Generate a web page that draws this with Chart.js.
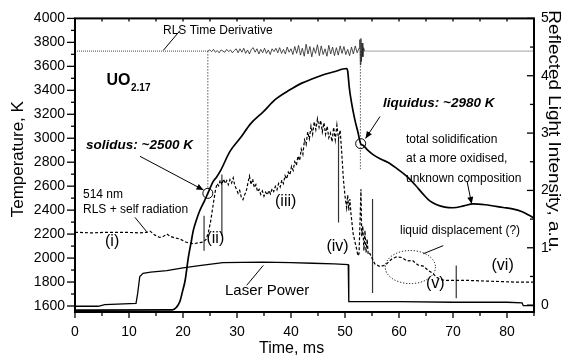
<!DOCTYPE html>
<html><head><meta charset="utf-8">
<script src="https://cdn.jsdelivr.net/npm/chart.js@4/dist/chart.umd.min.js"></script>
<style>html,body{margin:0;padding:0;background:#fff;}canvas{display:block;}</style>
</head><body>
<canvas id="c" width="567" height="356"></canvas>
<script>
const FONT = '"Liberation Sans", Arial, Helvetica, sans-serif';

// ---- tick labels ----
const xTickLabels = [0, 10, 20, 30, 40, 50, 60, 70, 80];
const tempTickLabels = [1600, 1800, 2000, 2200, 2400, 2600, 2800, 3000, 3200, 3400, 3600, 3800, 4000];
const rlsTickLabels = [0, 1, 2, 3, 4, 5];

// ---- temperature (K, left axis) ----
const tempTime = [0, 18.0, 18.8, 19.4, 19.9, 20.4, 21.0, 21.5, 21.9, 22.5, 23.1, 24.0, 24.6, 25.6, 26.2, 26.9, 28.7, 30.6, 32.5, 34.9, 37.0, 39.8, 42.0, 44.1, 46.0, 48.0, 50.3, 50.5, 50.8, 51.2, 51.8, 52.4, 52.9, 53.4, 54.2, 55.2, 56.7, 58.3, 59.8, 61.4, 63.0, 64.5, 65.7, 67.0, 68.5, 70.0, 72.0, 73.7, 76.0, 79.3, 81.0, 82.7, 84.0, 85.0];
const tempK = [1566, 1567, 1590, 1635, 1720, 1815, 2008, 2130, 2229, 2320, 2395, 2480, 2540, 2640, 2675, 2725, 2890, 3001, 3120, 3222, 3320, 3404, 3460, 3498, 3530, 3555, 3582, 3560, 3420, 3300, 3160, 3050, 2955, 2940, 2900, 2863, 2825, 2790, 2740, 2684, 2610, 2532, 2477, 2445, 2425, 2420, 2435, 2453, 2445, 2422, 2410, 2389, 2360, 2335];

// ---- laser power (a.u., right axis) ----
const laserTime = [0, 4.3, 5.5, 11.3, 11.6, 12.0, 12.6, 14, 17, 20, 23, 27.4, 31, 34.8, 40, 44, 48, 50.6, 50.7, 51.2, 60, 70, 80, 82.8, 83.0, 85];
const laserVal = [-0.02, -0.02, 0.01, 0.03, 0.2, 0.5, 0.555, 0.575, 0.6, 0.65, 0.69, 0.74, 0.745, 0.75, 0.74, 0.73, 0.72, 0.705, 0.06, 0.06, 0.06, 0.05, 0.05, 0.04, -0.01, -0.01];

// ---- 514 nm RLS + self radiation (a.u., right axis, dashed) ----
const rlsTime = [0, 3, 6, 9, 12, 13.3, 13.9, 14.8, 15.7, 16.4, 17, 17.6, 18.5, 19.4, 20.5, 21.9, 23, 23.8, 24.3, 24.7, 25.1, 25.6, 26.0, 26.3, 26.6, 26.9, 27.2, 27.5, 27.8, 28.1, 28.4, 28.7, 29.0, 29.3, 29.6, 29.9, 30.2, 30.5, 30.8, 31.1, 31.4, 31.7, 32.0, 32.3, 32.6, 32.9, 33.2, 33.5, 33.8, 34.1, 34.4, 34.7, 35.0, 35.3, 35.6, 35.9, 36.2, 36.5, 36.8, 37.1, 37.4, 37.7, 38.0, 38.3, 38.6, 38.9, 39.2, 39.5, 39.8, 40.1, 40.4, 40.7, 41.0, 41.3, 41.6, 41.9, 42.2, 42.5, 42.8, 43.1, 43.4, 43.7, 44.0, 44.3, 44.6, 44.9, 45.2, 45.5, 45.8, 46.1, 46.4, 46.7, 47.0, 47.3, 47.6, 47.9, 48.2, 48.5, 48.8, 49.1, 49.4, 49.7, 50.0, 50.3, 50.5, 50.7, 50.9, 51.1, 51.5, 51.8, 52.1, 52.4, 52.6, 52.8, 52.95, 53.1, 53.3, 53.5, 53.7, 53.9, 54.1, 54.3, 54.6, 55.5, 56.5, 57.5, 58.6, 59.5, 60.5, 61.5, 62.5, 63.5, 64.5, 65.5, 66.3, 67, 68, 69, 71, 73, 76, 79, 82, 85];
const rlsVal = [1.27, 1.26, 1.27, 1.27, 1.26, 1.27, 1.29, 1.22, 1.18, 1.2, 1.24, 1.2, 1.17, 1.155, 1.1, 1.07, 1.09, 1.1, 1.15, 1.27, 1.45, 1.76, 2.0, 2.12, 2.08, 2.18, 2.1, 2.2, 2.12, 2.17, 2.1, 2.19, 2.13, 2.22, 2.08, 2.02, 1.95, 2.0, 1.88, 1.84, 1.92, 1.98, 2.12, 2.25, 2.1, 2.2, 2.05, 2.1, 1.98, 2.02, 1.93, 1.99, 1.9, 1.97, 1.92, 2.0, 1.94, 2.03, 1.98, 2.07, 2.01, 2.12, 2.06, 2.18, 2.12, 2.26, 2.2, 2.32, 2.27, 2.42, 2.35, 2.5, 2.44, 2.6, 2.52, 2.72, 2.63, 2.88, 2.8, 3.02, 2.9, 3.12, 2.98, 3.2, 3.06, 3.25, 3.1, 3.22, 3.02, 3.18, 2.98, 3.12, 2.92, 3.0, 2.85, 3.1, 2.88, 3.14, 2.9, 3.05, 2.65, 2.2, 1.9, 1.7, 1.92, 1.65, 1.85, 1.6, 1.25, 1.12, 1.0, 0.86, 0.9, 1.5, 2.02, 1.2, 1.38, 0.95, 1.3, 0.92, 1.15, 0.88, 0.9, 0.72, 0.67, 0.7, 0.8, 0.84, 0.83, 0.77, 0.78, 0.7, 0.68, 0.6, 0.55, 0.48, 0.44, 0.43, 0.43, 0.43, 0.42, 0.41, 0.4, 0.4];

// ---- RLS time derivative (a.u., right axis) ----
const derivQuietTimeA = [0, 24.6];
const derivQuietValA = [4.43, 4.43];
const derivQuietTimeB = [53.6, 85];
const derivQuietValB = [4.43, 4.43];
const derivTime = [24.6, 24.95, 25.3, 25.65, 26.0, 26.35, 26.7, 27.05, 27.4, 27.75, 28.1, 28.45, 28.8, 29.15, 29.5, 29.85,
  30.2, 30.55, 30.9, 31.25, 31.6, 31.95, 32.3, 32.65, 33.0, 33.35, 33.7, 34.05, 34.4, 34.75, 35.1, 35.45, 35.8, 36.15, 36.5, 36.85, 37.2, 37.55, 37.9, 38.25, 38.6, 38.95, 39.3, 39.65, 40.0,
  40.35, 40.7, 41.05, 41.4, 41.75, 42.1, 42.45, 42.8, 43.15, 43.5, 43.85, 44.2, 44.55, 44.9, 45.25, 45.6, 45.95, 46.3, 46.65, 47.0, 47.35, 47.7, 48.05,
  48.4, 48.75, 49.1, 49.45, 49.8, 50.15, 50.5, 50.85, 51.2, 51.55, 51.9, 52.25, 52.6,
  52.75, 52.85, 52.95, 53.05, 53.15, 53.3, 53.45, 53.6];
const derivVal = [4.43, 4.45, 4.42, 4.46, 4.41, 4.44, 4.40, 4.45, 4.43, 4.41, 4.46, 4.42, 4.45, 4.40, 4.44, 4.47,
  4.40, 4.47, 4.41, 4.48, 4.39, 4.45, 4.38, 4.46, 4.49, 4.41, 4.47, 4.38, 4.46, 4.40, 4.48, 4.39, 4.45, 4.37, 4.47, 4.42, 4.48, 4.40, 4.49, 4.39, 4.46, 4.38, 4.50, 4.41, 4.47,
  4.37, 4.51, 4.39, 4.53, 4.36, 4.48, 4.34, 4.55, 4.38, 4.51, 4.33, 4.49, 4.39, 4.54, 4.35, 4.52, 4.37, 4.47, 4.34, 4.53, 4.38, 4.50, 4.35,
  4.49, 4.36, 4.52, 4.39, 4.51, 4.37, 4.46, 4.35, 4.50, 4.38, 4.52, 4.40, 4.48,
  4.63, 4.19, 4.65, 4.25, 4.57, 4.33, 4.49, 4.43];

// ---- phase marker lines (right axis units) ----
const markerTime = [23.9, 27.2, 48.8, 55.1, 70.6];
const markerTop = [1.56, 2.28, 2.88, 1.85, 0.69];
const markerBottom = [0.95, 1.21, 1.44, 0.21, 0.12];

// ---- dotted guide lines from the derivative trace (right axis units) ----
const guideTime = [24.6, 52.85];
const guideTop = [4.43, 4.43];
const guideBottom = [2.05, 2.37];

// ---- solidus / liquidus points (K) ----
const transTime = [24.6, 52.9];
const transK = [2540, 2955];

const xy = (ts, vs) => ts.map((t, i) => ({ x: t, y: vs[i] }));

const datasets = [
  { label: 'Temperature', data: xy(tempTime, tempK), yAxisID: 'y', borderColor: '#000', borderWidth: 1.7, cubicInterpolationMode: 'monotone' },
  { label: 'Laser Power', data: xy(laserTime, laserVal), yAxisID: 'y1', borderColor: '#000', borderWidth: 1.3 },
  { label: 'RLS + self radiation', data: xy(rlsTime, rlsVal), yAxisID: 'y1', borderColor: '#000', borderWidth: 1.2, borderDash: [3, 2] },
  { label: 'RLS Time Derivative', data: xy(derivTime, derivVal), yAxisID: 'y1', borderColor: '#222', borderWidth: 0.8 },
  { label: 'deriv quiet A', data: xy(derivQuietTimeA, derivQuietValA), yAxisID: 'y1', borderColor: '#444', borderWidth: 1, borderDash: [1, 1] },
  { label: 'deriv quiet B', data: xy(derivQuietTimeB, derivQuietValB), yAxisID: 'y1', borderColor: '#444', borderWidth: 1, borderDash: [1, 1] },
];
markerTime.forEach((t, i) => datasets.push({ label: 'marker' + i, data: [{ x: t, y: markerTop[i] }, { x: t, y: markerBottom[i] }], yAxisID: 'y1', borderColor: '#333', borderWidth: 1.2 }));
guideTime.forEach((t, i) => datasets.push({ label: 'guide' + i, data: [{ x: t, y: guideTop[i] }, { x: t, y: guideBottom[i] }], yAxisID: 'y1', borderColor: '#555', borderWidth: 1, borderDash: [1.5, 1.5] }));
datasets.push({ type: 'scatter', label: 'transitions', data: xy(transTime, transK), yAxisID: 'y', showLine: false, pointRadius: 5, pointStyle: 'circle', borderColor: '#000', borderWidth: 1, backgroundColor: 'rgba(0,0,0,0)' });

// ---- annotations (data units: t in ms, k on the temperature axis) ----
const notes = [
  { text: 'RLS Time Derivative', t: 16.3, k: 3868, font: '12px' },
  { text: 'solidus: ~2500 K', t: 2.04, k: 2907, font: 'italic bold 13.5px' },
  { text: 'liquidus: ~2980 K', t: 57.04, k: 3263, font: 'italic bold 13.5px' },
  { text: 'total solidification', t: 61.3, k: 2961, font: '12px' },
  { text: 'at a more oxidised,', t: 61.3, k: 2800, font: '12px' },
  { text: 'unknown composition', t: 61.3, k: 2634, font: '12px' },
  { text: '514 nm', t: 1.48, k: 2502, font: '12px' },
  { text: 'RLS + self radiation', t: 1.48, k: 2378, font: '12px' },
  { text: '(i)', t: 5.56, k: 2104, font: '16px' },
  { text: '(ii)', t: 24.35, k: 2129, font: '16px' },
  { text: '(iii)', t: 37.04, k: 2436, font: '16px' },
  { text: '(iv)', t: 46.57, k: 2063, font: '16px' },
  { text: '(v)', t: 65.0, k: 1749, font: '16px' },
  { text: '(vi)', t: 77.13, k: 1898, font: '16px' },
  { text: 'Laser Power', t: 27.78, k: 1691, font: '15px' },
  { text: 'liquid displacement (?)', t: 60.19, k: 2204, font: '12px' },
];
const leaders = [
  { t1: 19.44, k1: 3898, t2: 16.35, k2: 3733, arrow: false },
  { t1: 11.11, k1: 2339, t2: 13.28, k2: 2220, arrow: false },
  { t1: 12.04, k1: 2849, t2: 23.8, k2: 2568, arrow: true },
  { t1: 56.48, k1: 3181, t2: 53.8, k2: 2998, arrow: true },
  { t1: 72.59, k1: 2643, t2: 73.46, k2: 2452, arrow: true },
  { t1: 68.2, k1: 2104, t2: 64.5, k2: 2036, arrow: false },
  { t1: 31.8, k1: 1773, t2: 34.87, k2: 1939, arrow: false },
];
const displacementEllipse = { t: 62.1, k: 1925, rt: 4.65, rk: 138 };

const decor = {
  id: 'decor',
  afterDraw(chart) {
    const ctx = chart.ctx, xs = chart.scales.x, yl = chart.scales.y, yr = chart.scales.y1;
    const a = chart.chartArea;
    const X = t => xs.getPixelForValue(t), Y = k => yl.getPixelForValue(k);
    const seg = (x1, y1, x2, y2) => { ctx.beginPath(); ctx.moveTo(x1, y1); ctx.lineTo(x2, y2); ctx.stroke(); };
    ctx.save();
    ctx.strokeStyle = '#000';
    ctx.lineWidth = 1.3;
    for (let v = 1600; v <= 4000; v += 100) { const p = Y(v); seg(a.left - (v % 200 === 0 ? 8 : 4), p, a.left, p); }
    for (let v = 0; v <= 5; v += 0.5) { const p = yr.getPixelForValue(v); seg(a.right - (Number.isInteger(v) ? 7 : 4), p, a.right, p); }
    for (let v = 0; v <= 85; v += 5) { const p = X(v); seg(p, a.bottom, p, a.bottom + (v % 10 === 0 ? 6 : 4)); seg(p, a.top, p, a.top + 3); }
    ctx.lineWidth = 2;
    ctx.strokeRect(a.left, a.top, a.right - a.left, a.bottom - a.top);

    // axis titles
    ctx.fillStyle = '#000';
    ctx.textAlign = 'center';
    ctx.textBaseline = 'alphabetic';
    ctx.font = '16px ' + FONT;
    ctx.fillText('Time, ms', X(40.1), 353);
    ctx.save();
    ctx.translate(18, Y(2825));
    ctx.rotate(-Math.PI / 2);
    ctx.textBaseline = 'middle';
    ctx.font = '17px ' + FONT;
    ctx.fillText('Temperature, K', 0, 0);
    ctx.restore();
    ctx.save();
    ctx.translate(554, yr.getPixelForValue(3.03));
    ctx.rotate(Math.PI / 2);
    ctx.textBaseline = 'middle';
    ctx.font = '17px ' + FONT;
    const rt = 'Reflected Light Intensity, a.u.';
    const w = ctx.measureText(rt).width;
    ctx.scale(242 / w, 1);
    ctx.fillText(rt, 0, 0);
    ctx.restore();

    // annotations
    ctx.textAlign = 'left';
    ctx.textBaseline = 'alphabetic';
    notes.forEach(n => { ctx.font = n.font + ' ' + FONT; ctx.fillText(n.text, X(n.t), Y(n.k)); });
    ctx.font = 'bold 16px ' + FONT;
    const ux = X(5.83);
    ctx.fillText('UO', ux, Y(3445));
    const uw = ctx.measureText('UO').width;
    ctx.font = 'bold 10px ' + FONT;
    ctx.fillText('2.17', ux + uw + 0.5, Y(3396));

    ctx.lineWidth = 1;
    ctx.strokeStyle = '#000';
    leaders.forEach(l => {
      const x1 = X(l.t1), y1 = Y(l.k1), x2 = X(l.t2), y2 = Y(l.k2);
      seg(x1, y1, x2, y2);
      if (l.arrow) {
        const ang = Math.atan2(y2 - y1, x2 - x1), L = 7, H = 3;
        ctx.beginPath();
        ctx.moveTo(x2, y2);
        ctx.lineTo(x2 - L * Math.cos(ang) + H * Math.sin(ang), y2 - L * Math.sin(ang) - H * Math.cos(ang));
        ctx.lineTo(x2 - L * Math.cos(ang) - H * Math.sin(ang), y2 - L * Math.sin(ang) + H * Math.cos(ang));
        ctx.closePath();
        ctx.fill();
      }
    });
    const e = displacementEllipse;
    ctx.setLineDash([1.2, 1.8]);
    ctx.beginPath();
    ctx.ellipse(X(e.t), Y(e.k), X(e.t + e.rt) - X(e.t), Y(e.k) - Y(e.k + e.rk), 0, 0, Math.PI * 2);
    ctx.stroke();
    ctx.setLineDash([]);
    ctx.restore();
  }
};

const tickFmt = v => String(v);
new Chart(document.getElementById('c'), {
  type: 'line',
  data: { datasets },
  options: {
    responsive: false,
    animation: false,
    devicePixelRatio: 1,
    events: [],
    layout: { padding: { top: 16, left: 0, right: 0, bottom: 0 } },
    elements: { point: { radius: 0 }, line: { tension: 0 } },
    plugins: { legend: { display: false }, tooltip: { enabled: false } },
    scales: {
      x: {
        type: 'linear', position: 'bottom', min: 0, max: 85,
        afterBuildTicks: s => { s.ticks = xTickLabels.map(v => ({ value: v })); },
        afterFit: s => { s.height = 44; },
        grid: { display: false, drawTicks: false },
        border: { display: false },
        ticks: { callback: tickFmt, font: { family: FONT, size: 14 }, color: '#000', padding: 12, maxRotation: 0, autoSkip: false }
      },
      y: {
        type: 'linear', position: 'left', min: 1550, max: 4000,
        afterBuildTicks: s => { s.ticks = tempTickLabels.map(v => ({ value: v })); },
        afterFit: s => { s.width = 75; },
        grid: { display: false, drawTicks: false },
        border: { display: false },
        ticks: { callback: tickFmt, font: { family: FONT, size: 14 }, color: '#000', padding: 10, autoSkip: false }
      },
      y1: {
        type: 'linear', position: 'right', min: -0.12, max: 5,
        afterBuildTicks: s => { s.ticks = rlsTickLabels.map(v => ({ value: v })); },
        afterFit: s => { s.width = 33; },
        grid: { display: false, drawTicks: false },
        border: { display: false },
        ticks: { callback: tickFmt, font: { family: FONT, size: 14 }, color: '#000', padding: 7, autoSkip: false }
      }
    }
  },
  plugins: [decor]
});
</script>
</body></html>
